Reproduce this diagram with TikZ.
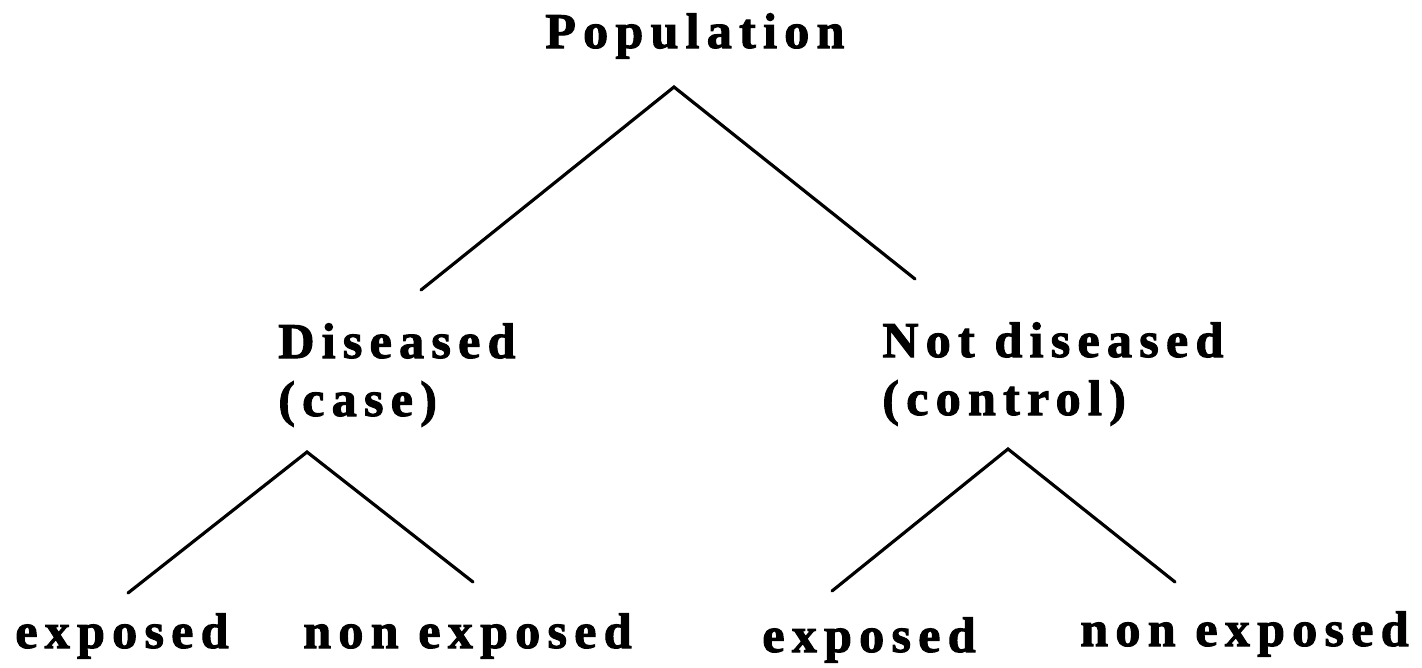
\documentclass[tikz,border=0pt]{standalone}
\usepackage{fontspec}
\usepackage{tikz}
\usetikzlibrary{positioning}
\newfontfamily\treefont{Liberation Serif}[LetterSpace=14.5,BoldFeatures={FakeBold=2}]
\tikzstyle{term} = [
    inner sep=0pt,
    anchor=base west,
    align=left,
    font=\treefont\bfseries\fontsize{28.5}{33}\selectfont
]
\tikzstyle{branch} = [
    draw=black,
    line width=1.8pt,
    line cap=round,
    line join=miter
]

\begin{document}
\begin{tikzpicture}[x=0.02cm, y=-0.02cm]
            \useasboundingbox (0,0) rectangle (1422,667);
            \node[term] (population) at (545,48) {Population};
            % two-line labels sit on the baseline of their last line
            \node[term] (case) at (278,416) {Diseased\\(case)};
            \node[term] (control) at (882,415) {Not diseased\\(control)};
            \node[term] (caseexp) at (15,648) {exposed};
            \node[term] (casenonexp) at (303,648) {non exposed};
            \node[term] (controlexp) at (762,652) {exposed};
            \node[term] (controlnonexp) at (1080,646) {non exposed};

            % split points and branch ends
            \coordinate (popsplit) at (674,87);
            \coordinate (casesplit) at (307,452);
            \coordinate (controlsplit) at (1008,449);
            \coordinate (tocase) at (421,290);
            \coordinate (tocontrol) at (915,279);
            \coordinate (tocaseexp) at (128,593);
            \coordinate (tocasenonexp) at (473,582);
            \coordinate (tocontrolexp) at (832,591);
            \coordinate (tocontrolnonexp) at (1175,582);

            \draw[branch] (tocase) -- (popsplit) -- (tocontrol);
            \draw[branch] (tocaseexp) -- (casesplit) -- (tocasenonexp);
            \draw[branch] (tocontrolexp) -- (controlsplit) -- (tocontrolnonexp);
        \end{tikzpicture}
\end{document}
